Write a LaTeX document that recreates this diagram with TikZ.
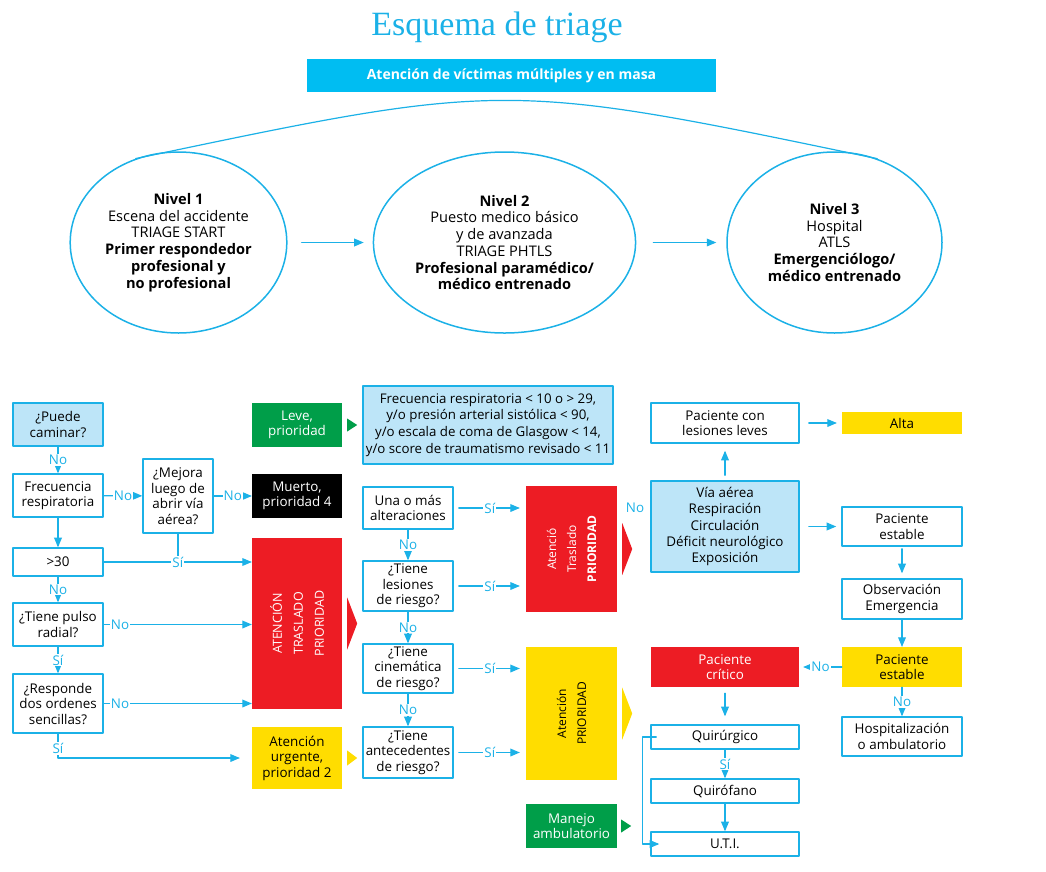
\documentclass[tikz,border=0pt]{standalone}
\usepackage{fontspec}
\setmainfont{Open Sans}
\newfontfamily\titulofont{Liberation Serif}
\usetikzlibrary{arrows}
\usetikzlibrary{shapes.geometric}
\definecolor{cian}{RGB}{27,177,231}
\definecolor{celeste}{RGB}{189,229,248}
\definecolor{rojo}{RGB}{237,28,36}
\definecolor{amarillo}{RGB}{255,221,0}
\definecolor{verde}{RGB}{0,158,73}
\definecolor{banda}{RGB}{0,189,242}
\newcommand{\fuentecaja}{\fontsize{13.4}{15.5}\selectfont}
\newcommand{\fuentenivel}{\fontsize{14.6}{16.7}\selectfont}

\begin{document}
\begin{tikzpicture}[line cap=round,line join=round,>=triangle 45,x=1pt,y=-1pt,
  caja/.style={draw=cian,line width=1.6pt,align=center,inner sep=1pt,font=\fuentecaja},
  cajaceleste/.style={caja,fill=celeste},
  llena/.style={align=center,inner sep=1pt,font=\fuentecaja},
  flecha/.style={->,draw=cian,line width=1.2pt},
  linea/.style={draw=cian,line width=1.2pt},
  etiq/.style={fill=white,text=cian,inner sep=1pt,font=\fuentecaja},
  girado/.style={rotate=90,align=center},
  nivel/.style={draw=cian,line width=1.5pt,ellipse,minimum width=215,minimum height=181,align=center,font=\fuentenivel}]
\useasboundingbox (0,0) rectangle (1046,871);
%
% cabecera
\node[text=cian,font=\titulofont\fontsize{34}{38}\selectfont] (titulo) at (497,27) {Esquema de triage};
\node[fill=banda,minimum width=409,minimum height=33,text=white,font=\bfseries\fontsize{14}{15}\selectfont] (banda) at (511.5,75.5) {Atención de víctimas múltiples y en masa};
%
\node[nivel] (n1) at (178.5,242.5) {\textbf{Nivel 1}\\Escena del accidente\\TRIAGE START\\\textbf{Primer respondedor}\\\textbf{profesional y}\\\textbf{no profesional}};
\node[nivel] (n2) at (504.5,242.5) {\textbf{Nivel 2}\\Puesto medico básico\\y de avanzada\\TRIAGE PHTLS\\\textbf{Profesional paramédico/}\\\textbf{médico entrenado}};
\node[nivel] (n3) at (834.5,242.5) {\textbf{Nivel 3}\\Hospital\\ATLS\\\textbf{Emergenciólogo/}\\\textbf{médico entrenado}};
\draw[flecha,shorten <=14pt,shorten >=9pt] (n1) -- (n2);
\draw[flecha,shorten <=17pt,shorten >=10pt] (n2) -- (n3);
\draw[linea] (n1.117) .. controls (505,81) .. (n3.63);
%
% triage START
\node[cajaceleste,minimum width=90,minimum height=43] (camina) at (58,424.5) {¿Puede\\caminar?};
\node[caja,minimum width=90,minimum height=43] (frec) at (58,495.5) {Frecuencia\\respiratoria};
\node[caja,minimum width=70,minimum height=74] (mejora) at (178,496) {¿Mejora\\luego de\\abrir vía\\aérea?};
\node[caja,minimum width=90,minimum height=28] (mas30) at (58,562) {>30};
\node[caja,minimum width=90,minimum height=43] (pulso) at (58,624.5) {¿Tiene pulso\\radial?};
\node[caja,minimum width=90,minimum height=59] (responde) at (58,703.5) {¿Responde\\dos ordenes\\sencillas?};
%
\node[llena,fill=verde,text=white,minimum width=90,minimum height=44] (leve) at (297,425) {Leve,\\prioridad};
\node[llena,fill=black,text=white,minimum width=90,minimum height=44] (muerto) at (297,496) {Muerto,\\prioridad 4};
\node[fill=rojo,minimum width=90,minimum height=171] (rojoA) at (297,623.5) {};
\node[girado,text=white,font=\fontsize{12.5}{21}\selectfont] (rojoAtxt) at (rojoA) {ATENCIÓN\\TRASLADO\\PRIORIDAD};
\node[llena,fill=amarillo,minimum width=90,minimum height=62] (urgente) at (297,758) {Atención\\urgente,\\prioridad 2};
\fill[verde] ([shift={(5,-6.5)}]leve.east) -- ++(10,6.5) -- ++(-10,6.5) -- cycle;
\fill[rojo] ([shift={(5,-26)}]rojoA.east) -- ++(10,26) -- ++(-10,26) -- cycle;
\fill[amarillo] ([shift={(5,-7.5)}]urgente.east) -- ++(10,7.5) -- ++(-10,7.5) -- cycle;
%
\draw[flecha] (camina) -- node[etiq]{No} (frec);
\draw[flecha] (frec) -- node[etiq]{No} (mejora);
\draw[flecha] (mejora) -- node[etiq]{No} (muerto);
\draw[flecha] (frec) -- (mas30);
\draw[linea] (mejora) -- (mejora |- mas30);
\draw[flecha] (mas30) -- node[etiq]{Sí} (rojoA.west |- mas30);
\draw[flecha] (mas30) -- node[etiq]{No} (pulso);
\draw[flecha] (pulso) -- node[etiq,pos=0.11]{No} (rojoA.west |- pulso);
\draw[flecha] (pulso) -- node[etiq]{Sí} (responde);
\draw[flecha] (responde) -- node[etiq,pos=0.11]{No} (rojoA.west |- responde);
\draw[flecha,shorten >=12pt] (responde) |- node[etiq,pos=0.3]{Sí} (urgente);
%
% triage PHTLS
\node[cajaceleste,minimum width=250,minimum height=78,font=\fontsize{13.3}{16.7}\selectfont] (criterios) at (488,425) {Frecuencia respiratoria < 10 o > 29,\\y/o presión arterial sistólica < 90,\\y/o escala de coma de Glasgow < 14,\\y/o score de traumatismo revisado < 11};
\node[caja,minimum width=90,minimum height=42] (altera) at (408,508) {Una o más\\alteraciones};
\node[caja,minimum width=90,minimum height=50] (lesiones) at (408,586) {¿Tiene\\lesiones\\de riesgo?};
\node[caja,minimum width=90,minimum height=49] (cinema) at (408,668.5) {¿Tiene\\cinemática\\de riesgo?};
\node[caja,minimum width=90,minimum height=51] (antece) at (408,752.5) {¿Tiene\\antecedentes\\de riesgo?};
%
\node[fill=rojo,minimum width=91,minimum height=126] (rojoB) at (571.5,549) {};
\node[girado,text=white,font=\fontsize{12}{20}\selectfont] (rojoBtxt) at (rojoB) {Atenció\\Traslado\\\textbf{PRIORIDAD}};
\node[fill=amarillo,minimum width=91,minimum height=133] (amar) at (571.5,713.5) {};
\node[girado,font=\fontsize{12}{20}\selectfont] (amartxt) at (amar) {Atención\\PRIORIDAD};
\node[llena,fill=verde,text=white,minimum width=91,minimum height=44] (manejo) at (571.5,826) {Manejo\\ambulatorio};
\fill[rojo] ([shift={(5,-26)}]rojoB.east) -- ++(10,26) -- ++(-10,26) -- cycle;
\fill[amarillo] ([shift={(5,-26)}]amar.east) -- ++(10,26) -- ++(-10,26) -- cycle;
\fill[verde] ([shift={(4,-6.5)}]manejo.east) -- ++(10,6.5) -- ++(-10,6.5) -- cycle;
\node[text=cian,font=\fuentecaja] (noB) at (635,508) {No};
%
\draw[flecha] (altera) -- node[etiq]{No} (lesiones);
\draw[flecha] (lesiones) -- node[etiq]{No} (cinema);
\draw[flecha] (cinema) -- node[etiq]{No} (antece);
\draw[flecha,shorten <=5pt,shorten >=6pt] (altera) -- node[etiq]{Sí} (rojoB.west |- altera);
\draw[flecha,shorten <=5pt,shorten >=6pt] (lesiones) -- node[etiq]{Sí} (rojoB.west |- lesiones);
\draw[flecha,shorten <=5pt,shorten >=6pt] (cinema) -- node[etiq]{Sí} (amar.west |- cinema);
\draw[flecha,shorten <=5pt,shorten >=6pt] (antece) -- node[etiq]{Sí} (amar.west |- antece);
%
% hospital
\node[caja,minimum width=148,minimum height=40] (leves) at (725,423) {Paciente con\\lesiones leves};
\node[cajaceleste,minimum width=148,minimum height=91,font=\fontsize{13.4}{16.4}\selectfont] (abcde) at (725,526.5) {Vía aérea\\Respiración\\Circulación\\Déficit neurológico\\Exposición};
\node[llena,fill=rojo,text=white,minimum width=148,minimum height=40] (critico) at (725,667) {Paciente\\crítico};
\node[caja,minimum width=148,minimum height=24] (quir) at (725,737) {Quirúrgico};
\node[caja,minimum width=148,minimum height=24] (quirof) at (725,791) {Quirófano};
\node[caja,minimum width=148,minimum height=24] (uti) at (725,844) {U.T.I.};
%
\node[llena,fill=amarillo,minimum width=120,minimum height=22] (alta) at (902,423) {Alta};
\node[caja,minimum width=120,minimum height=39] (estable) at (902,526.5) {Paciente\\estable};
\node[caja,minimum width=120,minimum height=40] (observa) at (902,599) {Observación\\Emergencia};
\node[llena,fill=amarillo,minimum width=120,minimum height=40] (estableB) at (902,667) {Paciente\\estable};
\node[caja,minimum width=120,minimum height=39] (hosp) at (902,736.5) {Hospitalización\\o ambulatorio};
%
\draw[flecha,shorten <=5pt,shorten >=7pt] (abcde) -- (leves);
\draw[flecha,shorten <=9pt,shorten >=5pt] (leves) -- (alta);
\draw[flecha,shorten <=9pt,shorten >=5pt] (abcde) -- (estable);
\draw[flecha,shorten <=2pt,shorten >=5pt] (estable) -- (observa);
\draw[flecha] (observa) -- (estableB);
\draw[flecha,shorten >=4pt] (estableB) -- node[etiq]{No} (critico);
\draw[flecha] (estableB) -- node[etiq]{No} (hosp);
\draw[flecha,shorten <=6pt,shorten >=8pt] (critico) -- (quir);
\draw[flecha] (quir) -- node[etiq]{Sí} (quirof);
\draw[flecha] (quirof) -- (uti);
\draw[flecha] ([xshift=6pt]quir.west) -- ++(-14,0) |- ([xshift=9pt]uti.west);
\end{tikzpicture}
\end{document}
